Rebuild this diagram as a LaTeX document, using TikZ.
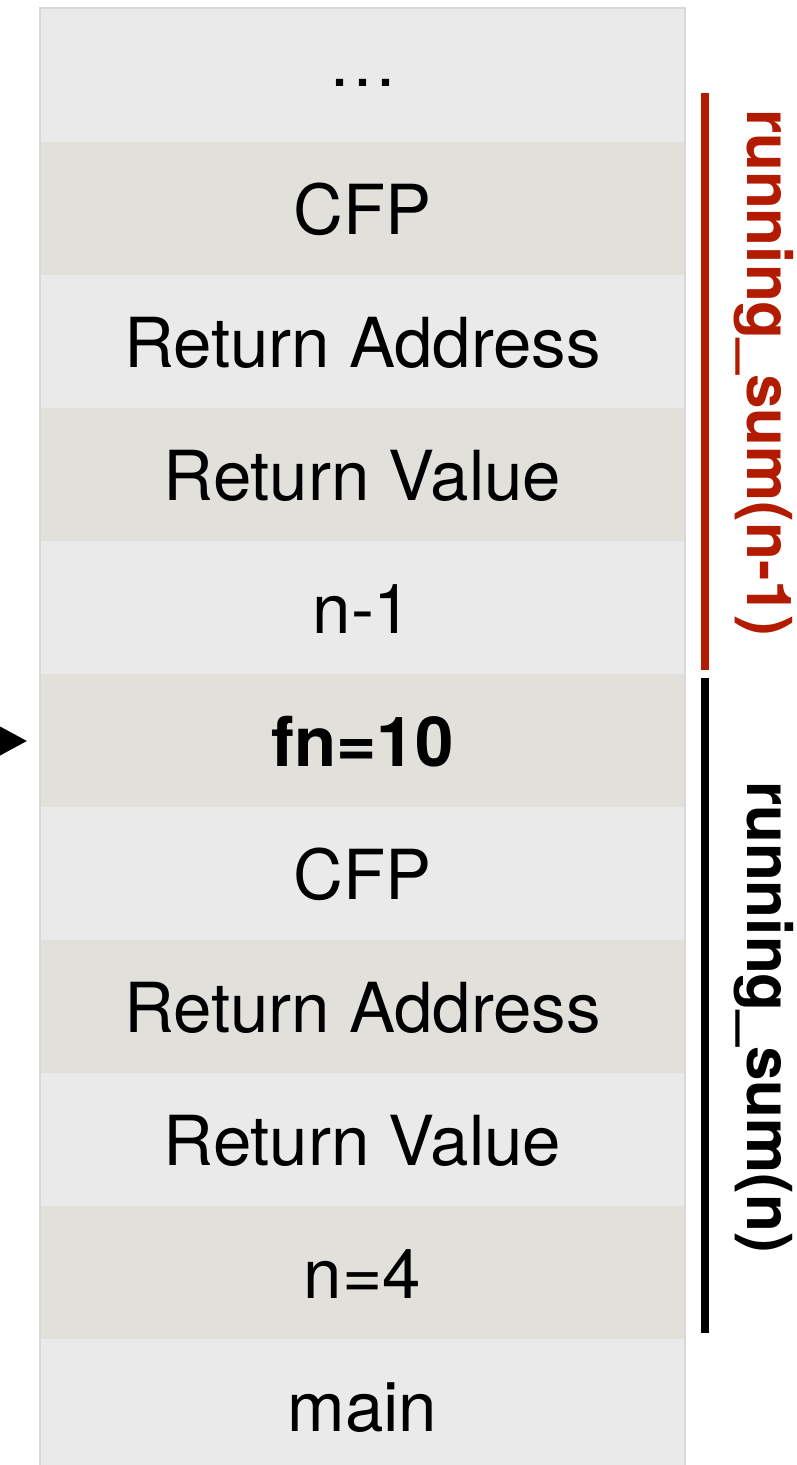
\documentclass[tikz,border=0pt]{standalone}
\usepackage{fontspec}
\setmainfont{TeX Gyre Heros}
\usetikzlibrary{arrows.meta}
\definecolor{rowlight}{HTML}{EAEAEA}
\definecolor{rowdark}{HTML}{E1E0DB}
\definecolor{edgegray}{HTML}{D8D8D8}
\definecolor{framered}{HTML}{B31B00}
\begin{document}
\begin{tikzpicture}[x=1pt,y=-1pt,
  row/.style={minimum width=645pt, minimum height=133pt, inner sep=0pt,
    text height=52pt, text depth=0pt, anchor=center,
    font=\fontsize{69}{80}\selectfont},
  lightrow/.style={row, fill=rowlight},
  darkrow/.style={row, fill=rowdark},
  bracketline/.style={line width=8pt},
  framelabel/.style={rotate=-90, anchor=base, inner sep=0pt,
    font=\bfseries\fontsize{62}{70}\selectfont}]
\useasboundingbox (0,0) rectangle (796,1465);
% rows
\node[lightrow] (r1) at (362.5,75) {};
\node[anchor=base, inner sep=0pt, font=\fontsize{69}{80}\selectfont] (dots) at (362.5,86.5) {…};
\node[darkrow]  (r2)  at (362.5,208)  {CFP};
\node[lightrow] (r3)  at (362.5,341)  {Return Address};
\node[darkrow]  (r4)  at (362.5,474)  {Return Value};
\node[lightrow] (r5)  at (362.5,607)  {n-1};
\node[darkrow, font=\bfseries\fontsize{69}{80}\selectfont] (r6) at (362.5,740) {fn=10};
\node[lightrow] (r7)  at (362.5,873)  {CFP};
\node[darkrow]  (r8)  at (362.5,1006) {Return Address};
\node[lightrow] (r9)  at (362.5,1139) {Return Value};
\node[darkrow]  (r10) at (362.5,1272) {n=4};
\node[lightrow] (r11) at (362.5,1405) {main};
% outline
\draw[edgegray, line width=1.2pt] (40,1475) -- (40,8) -- (685,8) -- (685,1475);
% pointer arrow
\coordinate (arrsrc) at (-40,741);
\draw[-{Triangle[length=27pt,width=29pt]}, line width=1pt, shorten >=13pt] (arrsrc) -- (r6.west |- arrsrc);
% frame brackets
\coordinate (redtop) at (705,93);
\coordinate (redbot) at (705,670);
\coordinate (blktop) at (705,678);
\coordinate (blkbot) at (705,1333);
\draw[bracketline, framered] (redtop) -- (redbot);
\draw[bracketline, black] (blktop) -- (blkbot);
\node[framelabel, text=framered] (lab1) at (747,372.5) {running\_sum(n-1)};
\node[framelabel, text=black] (lab2) at (747,1017) {running\_sum(n)};
\end{tikzpicture}
\end{document}
